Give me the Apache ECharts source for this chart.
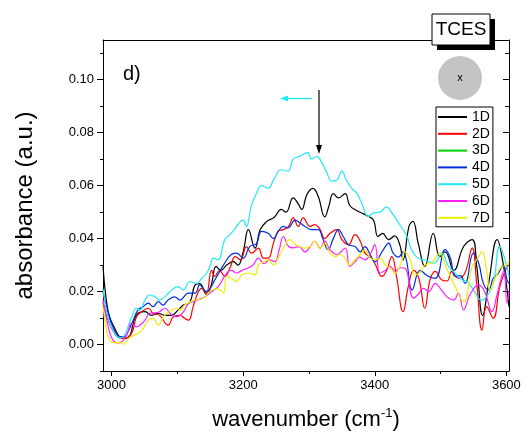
<!DOCTYPE html>
<html><head><meta charset="utf-8">
<script src="https://cdn.jsdelivr.net/npm/echarts@6/dist/echarts.min.js"></script>
<style>html,body{margin:0;padding:0;background:#fff}#c{width:524px;height:439px}</style>
</head><body><div id="c"></div>
<script>
const seriesNames = ['1D', '2D', '3D', '4D', '5D', '6D', '7D'];
const seriesColors = ['#000000', '#ff0000', '#00d000', '#0030dd', '#22e8f8', '#ff22ff', '#eeee00'];

const d1D = [[2987,0.0295],[2992,0.0168],[2997,0.0105],[3005,0.006],[3012,0.003],[3020,0.0023],[3028,0.0035],[3033,0.008],[3040,0.0118],[3051,0.0124],[3061,0.011],[3071,0.0118],[3081,0.011],[3091,0.011],[3101,0.013],[3109,0.0149],[3119,0.016],[3127,0.0225],[3134,0.023],[3144,0.019],[3151,0.022],[3159,0.0295],[3166,0.028],[3175,0.030],[3185,0.0313],[3192,0.030],[3200,0.035],[3208,0.0434],[3218,0.0364],[3226,0.0434],[3236,0.0465],[3247,0.048],[3258,0.051],[3265,0.050],[3276,0.0554],[3284,0.053],[3289,0.051],[3297,0.0567],[3306,0.059],[3314,0.056],[3324,0.0482],[3330,0.052],[3337,0.057],[3345,0.0554],[3355,0.057],[3362,0.0525],[3373,0.0505],[3380,0.0497],[3390,0.0484],[3398,0.047],[3405,0.0408],[3412,0.042],[3421,0.0396],[3430,0.041],[3438,0.0377],[3443,0.032],[3452,0.0446],[3458,0.0465],[3466,0.0383],[3476,0.0295],[3489,0.042],[3499,0.0332],[3507,0.035],[3520,0.028],[3535,0.037],[3548,0.0396],[3555,0.0295],[3564,0.011],[3573,0.023],[3586,0.0396],[3595,0.0307],[3604,0.0143]];

const d2D = [[2987,0.016],[2995,0.009],[3005,0.004],[3012,0.0025],[3018,0.0023],[3030,0.004],[3038,0.0105],[3046,0.0124],[3056,0.0137],[3063,0.0118],[3073,0.011],[3086,0.0073],[3094,0.0105],[3104,0.011],[3111,0.0099],[3117,0.0092],[3124,0.0143],[3132,0.020],[3137,0.0212],[3144,0.0194],[3152,0.028],[3157,0.0257],[3164,0.028],[3172,0.0257],[3180,0.029],[3188,0.0332],[3196,0.032],[3205,0.037],[3213,0.0345],[3223,0.0364],[3231,0.0326],[3238,0.0326],[3246,0.0383],[3253,0.0427],[3261,0.0434],[3269,0.0446],[3276,0.0478],[3284,0.0446],[3291,0.0478],[3302,0.0446],[3309,0.0453],[3317,0.0434],[3324,0.040],[3332,0.042],[3342,0.0434],[3350,0.0396],[3360,0.0377],[3370,0.0415],[3378,0.039],[3385,0.0345],[3393,0.0332],[3400,0.0307],[3411,0.0257],[3418,0.028],[3426,0.0332],[3433,0.0257],[3443,0.0124],[3451,0.0219],[3459,0.028],[3467,0.025],[3476,0.0137],[3484,0.0244],[3492,0.0276],[3502,0.0244],[3510,0.024],[3517,0.0276],[3527,0.025],[3537,0.027],[3548,0.0364],[3555,0.023],[3563,0.0054],[3570,0.0143],[3580,0.0099],[3590,0.0219],[3601,0.0295],[3604,0.030]];

const d3D = [];

const d4D = [[2987,0.020],[2995,0.0118],[3002,0.0067],[3013,0.003],[3020,0.003],[3025,0.0048],[3033,0.0092],[3040,0.013],[3048,0.0143],[3056,0.0156],[3063,0.0143],[3071,0.0162],[3078,0.0149],[3086,0.0168],[3096,0.018],[3104,0.0168],[3117,0.0194],[3127,0.0194],[3134,0.0225],[3144,0.020],[3157,0.0244],[3170,0.030],[3182,0.034],[3190,0.0345],[3200,0.0326],[3210,0.037],[3220,0.038],[3228,0.0427],[3238,0.042],[3246,0.040],[3254,0.043],[3261,0.0446],[3268,0.044],[3279,0.047],[3286,0.046],[3294,0.0446],[3304,0.0434],[3314,0.0434],[3321,0.040],[3329,0.0358],[3337,0.040],[3345,0.0434],[3352,0.0408],[3360,0.0377],[3370,0.037],[3378,0.035],[3385,0.037],[3393,0.034],[3400,0.0313],[3413,0.0358],[3421,0.0383],[3428,0.0345],[3436,0.033],[3443,0.035],[3448,0.032],[3457,0.0206],[3469,0.028],[3480,0.026],[3492,0.025],[3507,0.0358],[3515,0.0326],[3522,0.0257],[3530,0.026],[3537,0.0231],[3550,0.0345],[3558,0.0307],[3565,0.0231],[3573,0.0206],[3580,0.025],[3588,0.027],[3595,0.030],[3601,0.0244],[3604,0.023]];

const d5D = [[2987,0.021],[2992,0.013],[2997,0.008],[3004,0.0045],[3012,0.0025],[3018,0.003],[3024,0.006],[3030,0.010],[3038,0.0137],[3043,0.013],[3051,0.0168],[3058,0.0187],[3066,0.018],[3073,0.0168],[3081,0.018],[3089,0.020],[3101,0.0219],[3109,0.0206],[3119,0.0238],[3129,0.023],[3137,0.025],[3145,0.027],[3150,0.030],[3155,0.0326],[3162,0.032],[3172,0.0396],[3180,0.0415],[3190,0.0446],[3196,0.0465],[3200,0.047],[3205,0.0445],[3212,0.052],[3220,0.057],[3228,0.060],[3238,0.059],[3246,0.062],[3258,0.066],[3268,0.0655],[3276,0.070],[3287,0.0712],[3298,0.0725],[3304,0.070],[3312,0.071],[3320,0.0685],[3327,0.065],[3335,0.0617],[3342,0.062],[3350,0.0655],[3357,0.062],[3365,0.059],[3373,0.057],[3380,0.0535],[3390,0.0484],[3398,0.0497],[3408,0.050],[3418,0.052],[3426,0.0497],[3436,0.046],[3449,0.0408],[3456,0.0358],[3466,0.0326],[3476,0.032],[3490,0.0307],[3502,0.0345],[3512,0.0295],[3522,0.027],[3532,0.0245],[3540,0.0238],[3550,0.0206],[3562,0.0168],[3570,0.018],[3580,0.0231],[3590,0.037],[3598,0.032],[3604,0.0257]];

const d6D = [[2987,0.0168],[2995,0.0067],[3002,0.0016],[3010,0.0006],[3018,0.0016],[3025,0.0048],[3030,0.008],[3038,0.0067],[3044,0.0075],[3051,0.0092],[3058,0.0118],[3066,0.012],[3073,0.0124],[3081,0.0137],[3089,0.0118],[3096,0.0105],[3104,0.011],[3111,0.013],[3117,0.0156],[3124,0.0162],[3132,0.017],[3142,0.018],[3152,0.020],[3162,0.0219],[3175,0.027],[3182,0.028],[3190,0.027],[3198,0.028],[3208,0.029],[3215,0.030],[3223,0.0326],[3232,0.0305],[3240,0.032],[3248,0.0313],[3255,0.036],[3261,0.0408],[3269,0.037],[3276,0.0365],[3285,0.037],[3294,0.035],[3302,0.037],[3309,0.039],[3317,0.0364],[3324,0.039],[3332,0.0358],[3342,0.034],[3355,0.0364],[3362,0.0295],[3370,0.0313],[3377,0.033],[3385,0.032],[3393,0.034],[3400,0.0377],[3408,0.027],[3416,0.028],[3423,0.0295],[3431,0.0276],[3439,0.029],[3446,0.0288],[3459,0.0175],[3466,0.019],[3474,0.0212],[3482,0.020],[3492,0.0231],[3500,0.021],[3510,0.018],[3520,0.0168],[3527,0.0194],[3535,0.013],[3545,0.019],[3558,0.0225],[3567,0.020],[3578,0.0124],[3586,0.019],[3596,0.0276],[3601,0.0156],[3604,0.020]];

const d7D = [[2987,0.0143],[2992,0.006],[2997,0.0016],[3005,0.0006],[3012,0.0008],[3018,0.0001],[3023,0.0016],[3030,0.003],[3040,0.0042],[3048,0.006],[3056,0.0092],[3063,0.0099],[3071,0.0073],[3078,0.010],[3084,0.0118],[3092,0.013],[3099,0.0137],[3105,0.013],[3111,0.0149],[3119,0.016],[3127,0.0168],[3134,0.017],[3142,0.018],[3152,0.0206],[3162,0.021],[3170,0.0194],[3175,0.0257],[3182,0.025],[3190,0.0238],[3198,0.0263],[3208,0.027],[3218,0.0263],[3223,0.030],[3230,0.031],[3238,0.032],[3246,0.030],[3254,0.033],[3261,0.0364],[3271,0.0396],[3278,0.038],[3286,0.037],[3294,0.0364],[3302,0.037],[3309,0.039],[3317,0.0364],[3324,0.0383],[3332,0.0345],[3340,0.0332],[3348,0.034],[3355,0.0326],[3362,0.030],[3370,0.032],[3378,0.034],[3385,0.0358],[3393,0.0326],[3400,0.032],[3408,0.0326],[3416,0.030],[3423,0.029],[3431,0.027],[3439,0.030],[3446,0.035],[3454,0.032],[3461,0.0263],[3468,0.027],[3476,0.030],[3487,0.031],[3499,0.0345],[3507,0.030],[3515,0.0257],[3522,0.0219],[3535,0.0162],[3548,0.0295],[3555,0.032],[3563,0.035],[3570,0.028],[3575,0.0206],[3583,0.025],[3593,0.0295],[3600,0.030],[3604,0.032]];

const seriesData = [d1D, d2D, d3D, d4D, d5D, d6D, d7D];

const xMin = 2987, xMax = 3604;
const yMin = -0.01, yMax = 0.115;
const xTickLabels = [3000, 3200, 3400, 3600];
const xMinorTicks = [3100, 3300, 3500];
const yTickLabels = [0, 0.02, 0.04, 0.06, 0.08, 0.10];
const yMinorTicks = [-0.01, 0.01, 0.03, 0.05, 0.07, 0.09, 0.11];

const F = '"Liberation Sans", Arial, sans-serif';
const black = '#000';

const chart = echarts.init(document.getElementById('c'), null, {renderer: 'canvas'});

const baseX = {type: 'value', min: xMin, max: xMax, gridIndex: 0, splitLine: {show: false}};
const baseY = {type: 'value', min: yMin, max: yMax, gridIndex: 0, splitLine: {show: false}};

const option = {
  backgroundColor: '#fff',
  animation: false,
  grid: {left: 103, top: 40, right: 15, bottom: 68, containLabel: false},
  xAxis: [
    Object.assign({}, baseX, {
      position: 'bottom',
      axisLine: {show: true, onZero: false, lineStyle: {color: black, width: 1}},
      axisTick: {show: true, inside: false, length: 5, customValues: xTickLabels, lineStyle: {color: black}},
      axisLabel: {show: true, customValues: xTickLabels, fontSize: 13, color: black, fontFamily: F, margin: 8,
        formatter: v => String(Math.round(v))},
      name: 'wavenumber (cm{sup|-1})',
      nameLocation: 'middle',
      nameGap: 36,
      nameTextStyle: {fontSize: 22, color: black, fontFamily: F,
        rich: {sup: {fontSize: 13, color: black, fontFamily: F, verticalAlign: 'top', lineHeight: 26}}}
    }),
    Object.assign({}, baseX, {
      position: 'bottom', offset: 0,
      axisLine: {show: false, onZero: false},
      axisTick: {show: true, inside: false, length: 3, customValues: xMinorTicks, lineStyle: {color: black}},
      axisLabel: {show: false}
    }),
    Object.assign({}, baseX, {
      position: 'top', offset: 0,
      axisLine: {show: true, onZero: false, lineStyle: {color: black, width: 1}},
      axisTick: {show: false},
      axisLabel: {show: false}
    })
  ],
  yAxis: [
    Object.assign({}, baseY, {
      position: 'left',
      axisLine: {show: true, onZero: false, lineStyle: {color: black, width: 1}},
      axisTick: {show: true, inside: false, length: 6, customValues: yTickLabels, lineStyle: {color: black}},
      axisLabel: {show: true, customValues: yTickLabels, fontSize: 13, color: black, fontFamily: F, margin: 9,
        formatter: v => v.toFixed(2)},
      name: 'absorbance (a.u.)',
      nameLocation: 'middle',
      nameGap: 66,
      nameTextStyle: {fontSize: 24, color: black, fontFamily: F}
    }),
    Object.assign({}, baseY, {
      position: 'left', offset: 0,
      axisLine: {show: false, onZero: false},
      axisTick: {show: true, inside: false, length: 3, customValues: yMinorTicks, lineStyle: {color: black}},
      axisLabel: {show: false}
    }),
    Object.assign({}, baseY, {
      position: 'right', offset: 0,
      axisLine: {show: true, onZero: false, lineStyle: {color: black, width: 1}},
      axisTick: {show: true, inside: true, length: 6, customValues: yTickLabels, lineStyle: {color: black}},
      axisLabel: {show: false}
    }),
    Object.assign({}, baseY, {
      position: 'right', offset: 0,
      axisLine: {show: false, onZero: false},
      axisTick: {show: true, inside: true, length: 4, customValues: yMinorTicks, lineStyle: {color: black}},
      axisLabel: {show: false}
    })
  ],
  legend: {
    show: true,
    orient: 'vertical',
    left: 436, top: 107,
    data: seriesNames,
    icon: 'path://M0,0 L29,0 L29,2 L0,2 Z',
    itemWidth: 29, itemHeight: 2, itemGap: 2.8,
    padding: [3, 3, 2, 2],
    backgroundColor: '#fff',
    borderColor: black, borderWidth: 1, borderRadius: 0,
    selectedMode: false,
    textStyle: {fontSize: 14, lineHeight: 14, color: black, fontFamily: F}
  },
  series: seriesNames.map((name, i) => ({
    name: name,
    type: 'line',
    xAxisIndex: 0, yAxisIndex: 0,
    data: seriesData[i],
    smooth: 0.45,
    symbol: 'none',
    showSymbol: false,
    clip: true,
    color: seriesColors[i],
    itemStyle: {color: seriesColors[i]},
    lineStyle: {color: seriesColors[i], width: 1.2},
    emphasis: {disabled: true},
    z: 2 + i
  })),
  graphic: [
    {type: 'rect', shape: {x: 437, y: 19, width: 58, height: 31}, style: {fill: '#000'}, z: 100},
    {type: 'rect', shape: {x: 432, y: 14, width: 58, height: 31}, style: {fill: '#fff', stroke: '#000', lineWidth: 1}, z: 101},
    {type: 'text', x: 461, y: 30, style: {text: 'TCES', fontSize: 19, fontFamily: F, fill: '#000', textAlign: 'center', textVerticalAlign: 'middle'}, z: 102},
    {type: 'circle', shape: {cx: 460, cy: 78, r: 22}, style: {fill: '#c4c4c4'}, z: 100},
    {type: 'text', x: 460, y: 78, style: {text: 'x', fontSize: 11, fontFamily: F, fill: '#000', textAlign: 'center', textVerticalAlign: 'middle'}, z: 101},
    {type: 'text', x: 123, y: 64, style: {text: 'd)', fontSize: 20, fontFamily: F, fill: '#000', textAlign: 'left', textVerticalAlign: 'top'}, z: 100},
    {type: 'line', shape: {x1: 287, y1: 98.5, x2: 312, y2: 98.5}, style: {stroke: '#22e8f8', lineWidth: 1.3}, z: 100},
    {type: 'polygon', shape: {points: [[280, 98.5], [288, 95.5], [288, 101.5]]}, style: {fill: '#22e8f8'}, z: 100},
    {type: 'line', shape: {x1: 319, y1: 90, x2: 319, y2: 147}, style: {stroke: '#000', lineWidth: 1.2}, z: 100},
    {type: 'polygon', shape: {points: [[319, 154], [316, 145], [322, 145]]}, style: {fill: '#000'}, z: 100}
  ]
};
chart.setOption(option);
</script>
</body></html>
